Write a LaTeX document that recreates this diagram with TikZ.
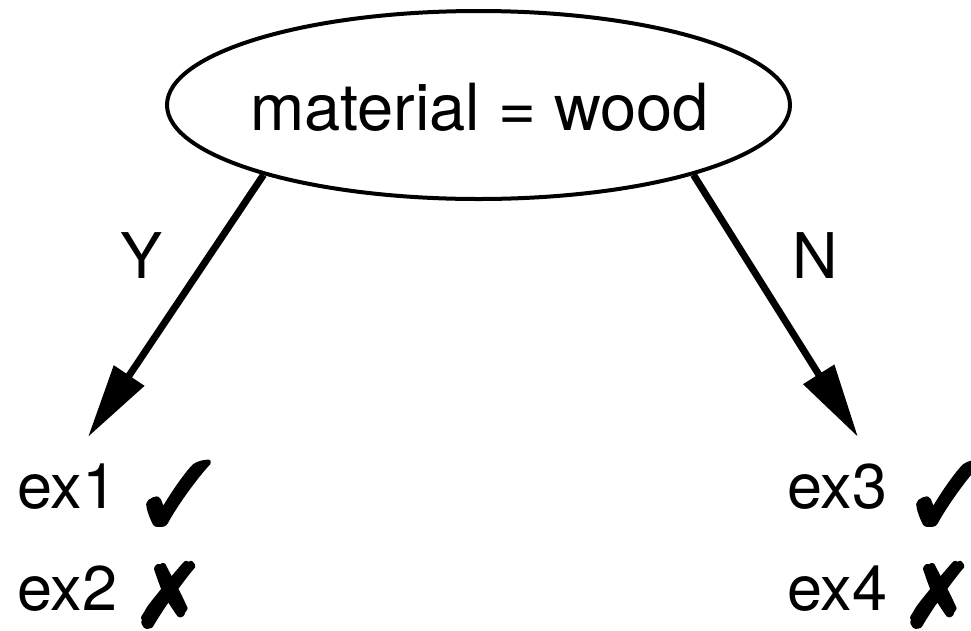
\documentclass[tikz,border=0pt]{standalone}
\usepackage{fontspec}
\setmainfont{TeX Gyre Heros}
\usepackage{pifont}
\usetikzlibrary{shapes.geometric,arrows.meta}
\newcommand{\fbon}{\special{pdf:literal direct 2 Tr 4 w 1 j}}
\newcommand{\fboff}{\special{pdf:literal direct 0 Tr}}
\newcommand{\okmark}{\fbon\ding{51}\fboff}
\newcommand{\nomark}{\fbon\ding{55}\fboff}
\begin{document}
\begin{tikzpicture}[x=1pt,y=1pt,
  bigtext/.style={font=\fontsize{63}{70}\selectfont, inner sep=0pt},
  rootnode/.style={ellipse, draw, line width=4pt, minimum width=623pt, minimum height=188pt, inner sep=0pt},
  edge/.style={line width=7pt, -{Triangle[length=74pt,width=35pt]}},
  dingmark/.style={font=\fontsize{88}{90}\selectfont, inner sep=0pt}
]
\useasboundingbox (0,0) rectangle (971,-630);
\node[rootnode] (root) at (478.5,-105) {};
\node[font=\fontsize{65}{70}\selectfont, inner sep=0pt, anchor=base] (lbl) at (479.5,-130) {material = wood};
\coordinate (tipL) at (88,-437);
\coordinate (tipR) at (858,-437);
\draw[edge] (root.198) -- (tipL);
\draw[edge] (root.342.5) -- (tipR);
\node[bigtext] (Y) at (142,-256) {Y};
\node[bigtext] (N) at (815,-256) {N};
\node[bigtext, anchor=base west] (ex1) at (17,-508) {ex1};
\node[bigtext, anchor=base west] (ex2) at (17,-610) {ex2};
\node[bigtext, anchor=base west] (ex3) at (787,-508) {ex3};
\node[bigtext, anchor=base west] (ex4) at (787,-610) {ex4};
\node[dingmark, anchor=south west] (c1) at (145,-525) {\okmark};
\node[dingmark, anchor=south west] (x2) at (143,-627) {\nomark};
\node[dingmark, anchor=south west] (c3) at (915,-525) {\okmark};
\node[dingmark, anchor=south west] (x4) at (912,-627) {\nomark};
\end{tikzpicture}
\end{document}
